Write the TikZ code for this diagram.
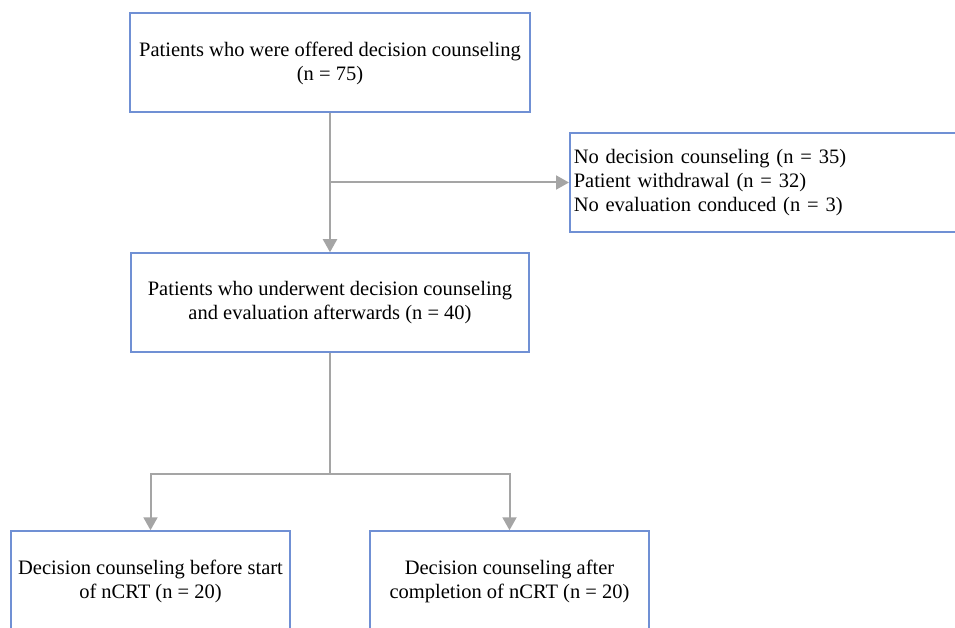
\documentclass[tikz,border=0pt]{standalone}
\usepackage{fontspec}
\setmainfont{Liberation Serif}
\usepackage{xcolor}
\usetikzlibrary{arrows.meta,calc}
\definecolor{BordeAzul}{RGB}{112,144,212}
\definecolor{GrisFlecha}{RGB}{165,165,165}

\begin{document}
\begin{tikzpicture}[x=1pt,y=-1pt,
  caja/.style={draw=BordeAzul,line width=1.5pt,inner sep=0pt,align=center,
    font=\fontsize{20.5}{23.6}\selectfont},
  flecha/.style={draw=GrisFlecha,line width=2pt,
    -{Triangle[width=14pt,length=13pt,fill=GrisFlecha]}},
  linea/.style={draw=GrisFlecha,line width=2pt}]
  \useasboundingbox (0,0) rectangle (955,628);
  \clip (0,0) rectangle (955,628);
  \node[caja,minimum width=400,minimum height=99] (ofrecidos) at (330,62.5)
    {\strut Patients who were offered decision counseling\\(n = 75)};
  \node[caja,anchor=west,minimum height=99,text width=392,inner xsep=4pt,align=left]
    (excluidos) at (569,182.5)
    {No decision counseling (n = 35)\\Patient withdrawal (n = 32)\\No evaluation conduced (n = 3)};
  \node[caja,minimum width=398,minimum height=99] (evaluados) at (330,302.5)
    {Patients who underwent decision counseling\\and evaluation afterwards (n = 40)};
  \node[caja,minimum width=279,minimum height=101] (antes) at (150.5,581.5)
    {Decision counseling before start\\of nCRT (n = 20)};
  \node[caja,minimum width=279,minimum height=101] (despues) at (509.5,581.5)
    {Decision counseling after\\completion of nCRT (n = 20)};
  % conectores
  \draw[flecha] (ofrecidos.south) -- (evaluados.north);
  \coordinate (rama) at (ofrecidos.south |- excluidos.west);
  \draw[flecha] (rama) -- (excluidos.west);
  \coordinate (division) at ($(evaluados.south)+(0,121)$);
  \draw[linea] (evaluados.south) -- (division);
  \draw[flecha] (division) -| (antes.north);
  \draw[flecha] (division) -| (despues.north);
\end{tikzpicture}
\end{document}
